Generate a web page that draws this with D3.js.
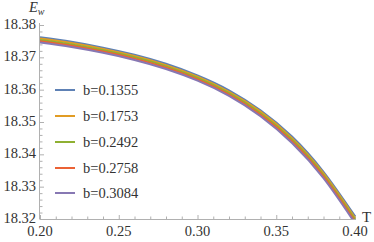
<!DOCTYPE html>
<html>
<head>
<meta charset="utf-8">
<script src="https://cdn.jsdelivr.net/npm/d3@7"></script>
<style>
  body { margin: 0; background: #fff; }
  svg text { font-family: "Liberation Serif", "Times New Roman", serif; fill: #333; }
</style>
</head>
<body>
<div class="chartWrap"></div>
<script>
//Data
const tVals = [0.20, 0.22, 0.24, 0.26, 0.28, 0.30, 0.32, 0.34, 0.36, 0.38, 0.40];
const bLabels = ["b=0.1355", "b=0.1753", "b=0.2492", "b=0.2758", "b=0.3084"];
const ew1355 = [18.3762, 18.3748, 18.3730, 18.3708, 18.3680, 18.3644, 18.3598, 18.3536, 18.3455, 18.3346, 18.3209];
const ew1753 = [18.3758, 18.3744, 18.3726, 18.3704, 18.3676, 18.3640, 18.3593, 18.3532, 18.3450, 18.3341, 18.3203];
const ew2492 = [18.3754, 18.3740, 18.3722, 18.3700, 18.3672, 18.3636, 18.3589, 18.3527, 18.3445, 18.3336, 18.3198];
const ew2758 = [18.3750, 18.3736, 18.3718, 18.3696, 18.3668, 18.3632, 18.3585, 18.3522, 18.3440, 18.3331, 18.3192];
const ew3084 = [18.3746, 18.3732, 18.3714, 18.3692, 18.3664, 18.3628, 18.3581, 18.3518, 18.3435, 18.3326, 18.3187];
const xTicks = [0.20, 0.25, 0.30, 0.35, 0.40];
const yTicks = [18.32, 18.33, 18.34, 18.35, 18.36, 18.37, 18.38];

const seriesList = [ew1355, ew1753, ew2492, ew2758, ew3084];
const colors = ["#5e81b5", "#e19c24", "#8fb032", "#eb6235", "#8778b3"];

let width = 374, height = 242;
let padL = 40, padR = 355, padT = 25, padB = 219;

let canvas = d3.select(".chartWrap").append("svg").attr("width", width).attr("height", height);

let xScale = d3.scaleLinear().domain([0.20, 0.40]).range([padL, padR]);
let yScale = d3.scaleLinear().domain([18.32, 18.38]).range([padB, padT]);

//Clip curves to the plot box
canvas.append("clipPath").attr("id", "plotClip")
  .append("rect").attr("x", padL).attr("y", padT - 2).attr("width", padR - padL + 3).attr("height", padB - padT + 2);

//Axes (Mathematica style: ticks point inward, minor ticks)
let axisColor = "#b0b0b0";
let xAxis = d3.axisBottom(xScale).tickValues(d3.range(0.20, 0.4001, 0.01)).tickSize(0).tickFormat("");
let gx = canvas.append("g").attr("transform", "translate(0," + padB + ")").call(xAxis);
gx.select(".domain").attr("stroke", axisColor).attr("d", "M" + padL + ",0.5H" + (padR + 1));
gx.selectAll(".tick line").attr("stroke", axisColor)
  .attr("y2", function(d) { return Math.abs(d * 20 - Math.round(d * 20)) < 1e-6 ? -4 : -2.5; });
xTicks.forEach(function(t) {
  canvas.append("text").text(t.toFixed(2))
    .attr("x", xScale(t)).attr("y", padB + 17)
    .attr("text-anchor", "middle").attr("font-size", 14.5);
});

let yAxis = d3.axisLeft(yScale).tickValues(d3.range(18.32, 18.3801, 0.002)).tickSize(0).tickFormat("");
let gy = canvas.append("g").attr("transform", "translate(" + padL + ",0)").call(yAxis);
gy.select(".domain").attr("stroke", axisColor).attr("d", "M-0.5," + (padB + 0.5) + "V" + (padT - 2));
gy.selectAll(".tick line").attr("stroke", axisColor)
  .attr("x2", function(d) { return Math.abs(d * 100 - Math.round(d * 100)) < 1e-6 ? 4 : 2.5; });
yTicks.forEach(function(v) {
  canvas.append("text").text(v.toFixed(2))
    .attr("x", padL - 4).attr("y", yScale(v) + 4)
    .attr("text-anchor", "end").attr("font-size", 14.5);
});

//Axis labels
let eLabel = canvas.append("text").attr("x", 29).attr("y", 12).attr("font-size", 14.5);
eLabel.append("tspan").text("E").attr("font-style", "italic");
eLabel.append("tspan").text("w").attr("font-style", "italic").attr("font-size", 10).attr("dy", 2.5);
canvas.append("text").text("T").attr("x", 362).attr("y", 222).attr("font-size", 15);

//Curves
let line = d3.line()
  .x(function(d, i) { return xScale(tVals[i]); })
  .y(function(d) { return yScale(d); })
  .curve(d3.curveNatural);
seriesList.forEach(function(s, i) {
  canvas.append("path").datum(s)
    .attr("d", line)
    .attr("fill", "none")
    .attr("stroke", colors[i])
    .attr("stroke-width", 2)
    .attr("clip-path", "url(#plotClip)");
});

//Legend
let legendY = [90, 116, 142, 168, 193];
bLabels.forEach(function(lab, i) {
  canvas.append("line")
    .attr("x1", 55).attr("x2", 75)
    .attr("y1", legendY[i]).attr("y2", legendY[i])
    .attr("stroke", colors[i]).attr("stroke-width", 2);
  canvas.append("text").text(lab)
    .attr("x", 83).attr("y", legendY[i] + 5)
    .attr("font-size", 14.5);
});
</script>
</body>
</html>
